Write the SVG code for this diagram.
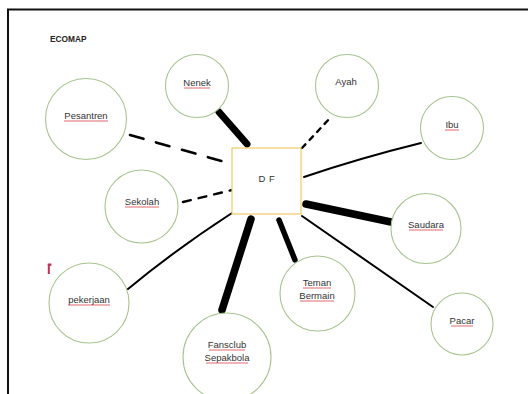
<svg xmlns="http://www.w3.org/2000/svg" width="528" height="394" viewBox="0 0 528 394">
<style>
.c{fill:#fff;stroke:#a8c490;stroke-width:1.1}
.t{font-family:"Liberation Sans",Arial,sans-serif;font-size:9.5px;fill:#333;text-anchor:middle}
.u{stroke:#d9434a;stroke-width:0.8;fill:none}
.l{stroke:#000;fill:none;stroke-linecap:round}
</style>
<rect width="528" height="394" fill="#fff"/>
<path d="M8,394 V9.5 H528" fill="none" stroke="#111" stroke-width="2"/>
<text x="50" y="42" font-family="Liberation Sans,Arial,sans-serif" font-size="8.3" font-weight="bold" fill="#222">ECOMAP</text>
<rect x="47.8" y="264" width="2" height="10" fill="#c0305a"/>
<rect x="47.8" y="263.5" width="3.6" height="2.3" fill="#c0305a"/>
<g id="connectors">
<path class="l" d="M219,112 L247,144" stroke-width="7"/>
<path class="l" d="M130,135 L232,164" stroke-width="2.6" stroke-dasharray="14 13" stroke-linecap="butt"/>
<path class="l" d="M183,202 L232,190" stroke-width="2.4" stroke-dasharray="8 8" stroke-linecap="butt"/>
<path class="l" d="M302,148 L332,116" stroke-width="2.4" stroke-dasharray="5 6" stroke-linecap="butt"/>
<path class="l" d="M304,177 Q360,158 421,143" stroke-width="2"/>
<path class="l" d="M306,204 L391,222" stroke-width="7.5"/>
<path class="l" d="M302,216 L433,307" stroke-width="2"/>
<path class="l" d="M279,220 L295,260" stroke-width="5.5"/>
<path class="l" d="M251,219 L222,310" stroke-width="7.5"/>
<path class="l" d="M232,213 Q175,250 128,289" stroke-width="2"/>
</g>
<g id="DF">
<rect x="232" y="148" width="69" height="66" fill="#fff" stroke="#f2c867" stroke-width="1.2"/>
<text class="t" x="267" y="182" letter-spacing="0.5">D F</text>
</g>
<g id="Nenek"><circle class="c" cx="197" cy="86" r="31.5"/><text class="t" x="197" y="86">Nenek</text><path class="u" d="M184,88 H210"/></g>
<g id="Pesantren"><circle class="c" cx="86" cy="119" r="40.5"/><text class="t" x="86" y="119">Pesantren</text><path class="u" d="M64,121 H108"/></g>
<g id="Ayah"><circle class="c" cx="347" cy="86" r="31.5"/><text class="t" x="346" y="85">Ayah</text></g>
<g id="Ibu"><circle class="c" cx="452" cy="128" r="31.5"/><text class="t" x="452" y="128">Ibu</text><path class="u" d="M445,130 H459"/></g>
<g id="Sekolah"><circle class="c" cx="141.5" cy="206.5" r="36.5"/><text class="t" x="142" y="205">Sekolah</text><path class="u" d="M125,207 H159"/></g>
<g id="pekerjaan"><circle class="c" cx="89" cy="303" r="40"/><text class="t" x="89" y="303">pekerjaan</text><path class="u" d="M68,305 H110"/></g>
<g id="Fansclub"><circle class="c" cx="227" cy="357" r="44"/><text class="t" x="227" y="348">Fansclub</text><path class="u" d="M209,350 H245"/><text class="t" x="227" y="361">Sepakbola</text><path class="u" d="M206,363 H248"/></g>
<g id="Saudara"><circle class="c" cx="426" cy="228.5" r="35"/><text class="t" x="426" y="228">Saudara</text><path class="u" d="M409,230 H443"/></g>
<g id="TemanBermain"><circle class="c" cx="317.5" cy="293.5" r="37.5"/><text class="t" x="317" y="286">Teman</text><path class="u" d="M303,288 H331"/><text class="t" x="317" y="299">Bermain</text><path class="u" d="M300,301 H334"/></g>
<g id="Pacar"><circle class="c" cx="462" cy="324" r="31"/><text class="t" x="462" y="324">Pacar</text><path class="u" d="M451,326 H473"/></g>
</svg>
